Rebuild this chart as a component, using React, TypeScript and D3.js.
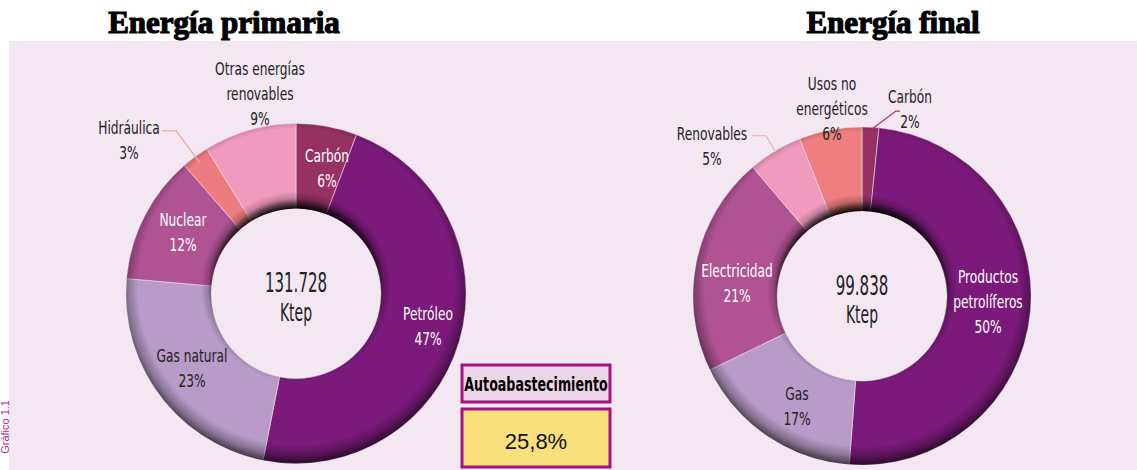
import React from "react";
import * as d3 from "d3";

// ---------- DATA ----------
const primaryCategories = ["Carbón", "Petróleo", "Gas natural", "Nuclear", "Hidráulica", "Otras energías renovables"];
const primaryValues = [5.8, 47.3, 23.3, 12.2, 2.6, 8.8];
const primaryPct = ["6%", "47%", "23%", "12%", "3%", "9%"];
const primaryTotal = "131.728";

const finalCategories = ["Carbón", "Productos petrolíferos", "Gas", "Electricidad", "Renovables", "Usos no energéticos"];
const finalValues = [1.6, 49.6, 16.6, 21.0, 5.2, 6.0];
const finalPct = ["2%", "50%", "17%", "21%", "5%", "6%"];
const finalTotal = "99.838";

const unit = "Ktep";
const selfSupplyLabel = "Autoabastecimiento";
const selfSupplyValue = "25,8%";
const figureTag = "Gráfico 1.1";

// ---------- STYLE / LAYOUT ----------
const W = 1137, H = 470;
const LABEL_FONT = "'Liberation Sans Narrow', 'DejaVu Sans Condensed', 'Roboto Condensed', sans-serif";
const primaryColors = ["#963262", "#7B1A7A", "#B89BC7", "#B05393", "#EC7C80", "#F09ABE"];
const finalColors = ["#963262", "#7B1A7A", "#B89BC7", "#B05393", "#F09ABE", "#EE7E80"];

type LabelCfg = { lines: string[]; x: number; y: number; color: string; leader?: { r1: number; r2: number; a2?: number; hx: number } };

const primaryLayout: LabelCfg[] = [
  { lines: ["Carbón"], x: 31, y: -137, color: "#fff" },
  { lines: ["Petróleo"], x: 132, y: 21, color: "#fff" },
  { lines: ["Gas natural"], x: -104, y: 63, color: "#222" },
  { lines: ["Nuclear"], x: -113, y: -73, color: "#fff" },
  { lines: ["Hidráulica"], x: -167, y: -165, color: "#222", leader: { r1: 163, r2: 202, hx: -14 } },
  { lines: ["Otras energías", "renovables"], x: -36, y: -224, color: "#222" },
];
const finalLayout: LabelCfg[] = [
  { lines: ["Carbón"], x: 48, y: -199, color: "#222", leader: { r1: 166, r2: 188, a2: 7.5, hx: 4 } },
  { lines: ["Productos", "petrolíferos"], x: 126, y: -19, color: "#fff" },
  { lines: ["Gas"], x: -65, y: 98, color: "#222" },
  { lines: ["Electricidad"], x: -125, y: -25, color: "#fff" },
  { lines: ["Renovables"], x: -150, y: -162, color: "#222", leader: { r1: 168, r2: 187, hx: -14 } },
  { lines: ["Usos no", "energéticos"], x: -30, y: -212, color: "#222" },
];
const leaderColorsPrimary = ["", "", "", "", "#F2A79E", ""];
const leaderColorsFinal = ["#B0306F", "", "", "", "#F2B2CB", ""];

const LABEL_SX = 0.8;
const CENTER_SX = 0.62;

function Donut({ id, cx, cy, rOut, rIn, values, colors, pct, layout, leaderColors, total }: any) {
  const pie = d3.pie<number>().sort(null).value((d) => d)(values);
  const arc = d3.arc<d3.PieArcDatum<number>>().innerRadius(rIn).outerRadius(rOut);
  const ring = d3.arc<any>().innerRadius(rIn).outerRadius(rOut).startAngle(0).endAngle(2 * Math.PI);
  const shift = 7;
  const gR = rOut + 10;
  const f = (d: number) => `${(d / gR) * 100}%`;
  const lineH = 25;
  return (
    <g transform={`translate(${cx},${cy})`}>
      <defs>
        <radialGradient id={`shade-${id}`} gradientUnits="userSpaceOnUse" cx={0} cy={-shift} r={gR}>
          <stop offset="0%" stopColor="#000" stopOpacity={0.95} />
          <stop offset={f(rIn - shift)} stopColor="#000" stopOpacity={0.95} />
          <stop offset={f(rIn - shift + 5)} stopColor="#000" stopOpacity={0.6} />
          <stop offset={f(rIn - shift + 10)} stopColor="#000" stopOpacity={0.2} />
          <stop offset={f(rIn - shift + 17)} stopColor="#000" stopOpacity={0} />
          <stop offset={f(rOut - 12)} stopColor="#000" stopOpacity={0} />
          <stop offset={f(rOut - 2)} stopColor="#000" stopOpacity={0.25} />
          <stop offset={f(rOut + 7)} stopColor="#000" stopOpacity={0.65} />
          <stop offset="100%" stopColor="#000" stopOpacity={0.7} />
        </radialGradient>
      </defs>
      {pie.map((p, i) => (
        <path key={i} d={arc(p) as string} fill={colors[i]} stroke="#efdde9" strokeWidth={0.6} />
      ))}
      <path d={ring({}) as string} fill={`url(#shade-${id})`} />
      {pie.map((p, i) => {
        const L: LabelCfg = layout[i];
        const mid = (p.startAngle + p.endAngle) / 2;
        let leader = null;
        if (L.leader) {
          const a2 = mid + ((L.leader.a2 || 0) * Math.PI) / 180;
          const x1 = Math.sin(mid) * L.leader.r1, y1 = -Math.cos(mid) * L.leader.r1;
          const x2 = Math.sin(a2) * L.leader.r2, y2 = -Math.cos(a2) * L.leader.r2;
          leader = (
            <polyline points={`${x1},${y1} ${x2},${y2} ${x2 + L.leader.hx},${y2}`} fill="none" stroke={leaderColors[i]} strokeWidth={1.3} />
          );
        }
        const lines = [...L.lines, pct[i]];
        return (
          <g key={`l${i}`}>
            {leader}
            <g transform={`translate(${L.x},${L.y}) scale(${LABEL_SX},1)`}>
              <text textAnchor="middle" fontFamily={LABEL_FONT} fontSize={17} fill={L.color}>
                {lines.map((t, k) => (
                  <tspan key={k} x={0} y={k * lineH} dominantBaseline="central">{t}</tspan>
                ))}
              </text>
            </g>
          </g>
        );
      })}
      <g transform={`scale(${CENTER_SX},1)`}>
        <text textAnchor="middle" fontFamily={LABEL_FONT} fill="#222">
          <tspan x={0} y={-11} fontSize={27} dominantBaseline="central">{total}</tspan>
          <tspan x={0} y={19} fontSize={25} dominantBaseline="central">{unit}</tspan>
        </text>
      </g>
    </g>
  );
}

export default function App() {
  return (
    <svg width={W} height={H} style={{ position: "absolute", left: 0, top: 0, background: "#fff" }}>
      <rect x={9} y={41} width={W - 9} height={H - 41} fill="#F3E7F2" />
      <text x={224} y={33} textAnchor="middle" fontFamily="'Liberation Serif', 'DejaVu Serif', serif" fontWeight={700} fontSize={31} fill="#000" stroke="#000" strokeWidth={1.2}>
        Energía primaria
      </text>
      <text x={893} y={33} textAnchor="middle" fontFamily="'Liberation Serif', 'DejaVu Serif', serif" fontWeight={700} fontSize={31} fill="#000" stroke="#000" strokeWidth={1.2}>
        Energía final
      </text>
      <text transform="translate(9,400) rotate(-90)" textAnchor="end" fontFamily="'Liberation Sans', Arial, sans-serif" fontSize={11} fill="#B0308A">
        {figureTag}
      </text>
      <Donut id="p" cx={296} cy={293.5} rOut={170} rIn={85} values={primaryValues} colors={primaryColors} pct={primaryPct} layout={primaryLayout} leaderColors={leaderColorsPrimary} total={primaryTotal} />
      <Donut id="f" cx={862} cy={296} rOut={169} rIn={85} values={finalValues} colors={finalColors} pct={finalPct} layout={finalLayout} leaderColors={leaderColorsFinal} total={finalTotal} />
      <rect x={462} y={365} width={148} height={37} fill="#ECD5E8" stroke="#A3137F" strokeWidth={3} />
      <g transform="translate(536,384) scale(0.74,1)">
        <text x={0} y={0} textAnchor="middle" dominantBaseline="central" fontFamily={LABEL_FONT} fontWeight={700} fontSize={19} fill="#000">
          {selfSupplyLabel}
        </text>
      </g>
      <rect x={462} y={409} width={148} height={58} fill="#F9E07C" stroke="#A3137F" strokeWidth={3} />
      <text x={536} y={441} textAnchor="middle" dominantBaseline="central" fontFamily="'Liberation Sans', Arial, sans-serif" fontSize={22} fill="#111">
        {selfSupplyValue}
      </text>
    </svg>
  );
}
